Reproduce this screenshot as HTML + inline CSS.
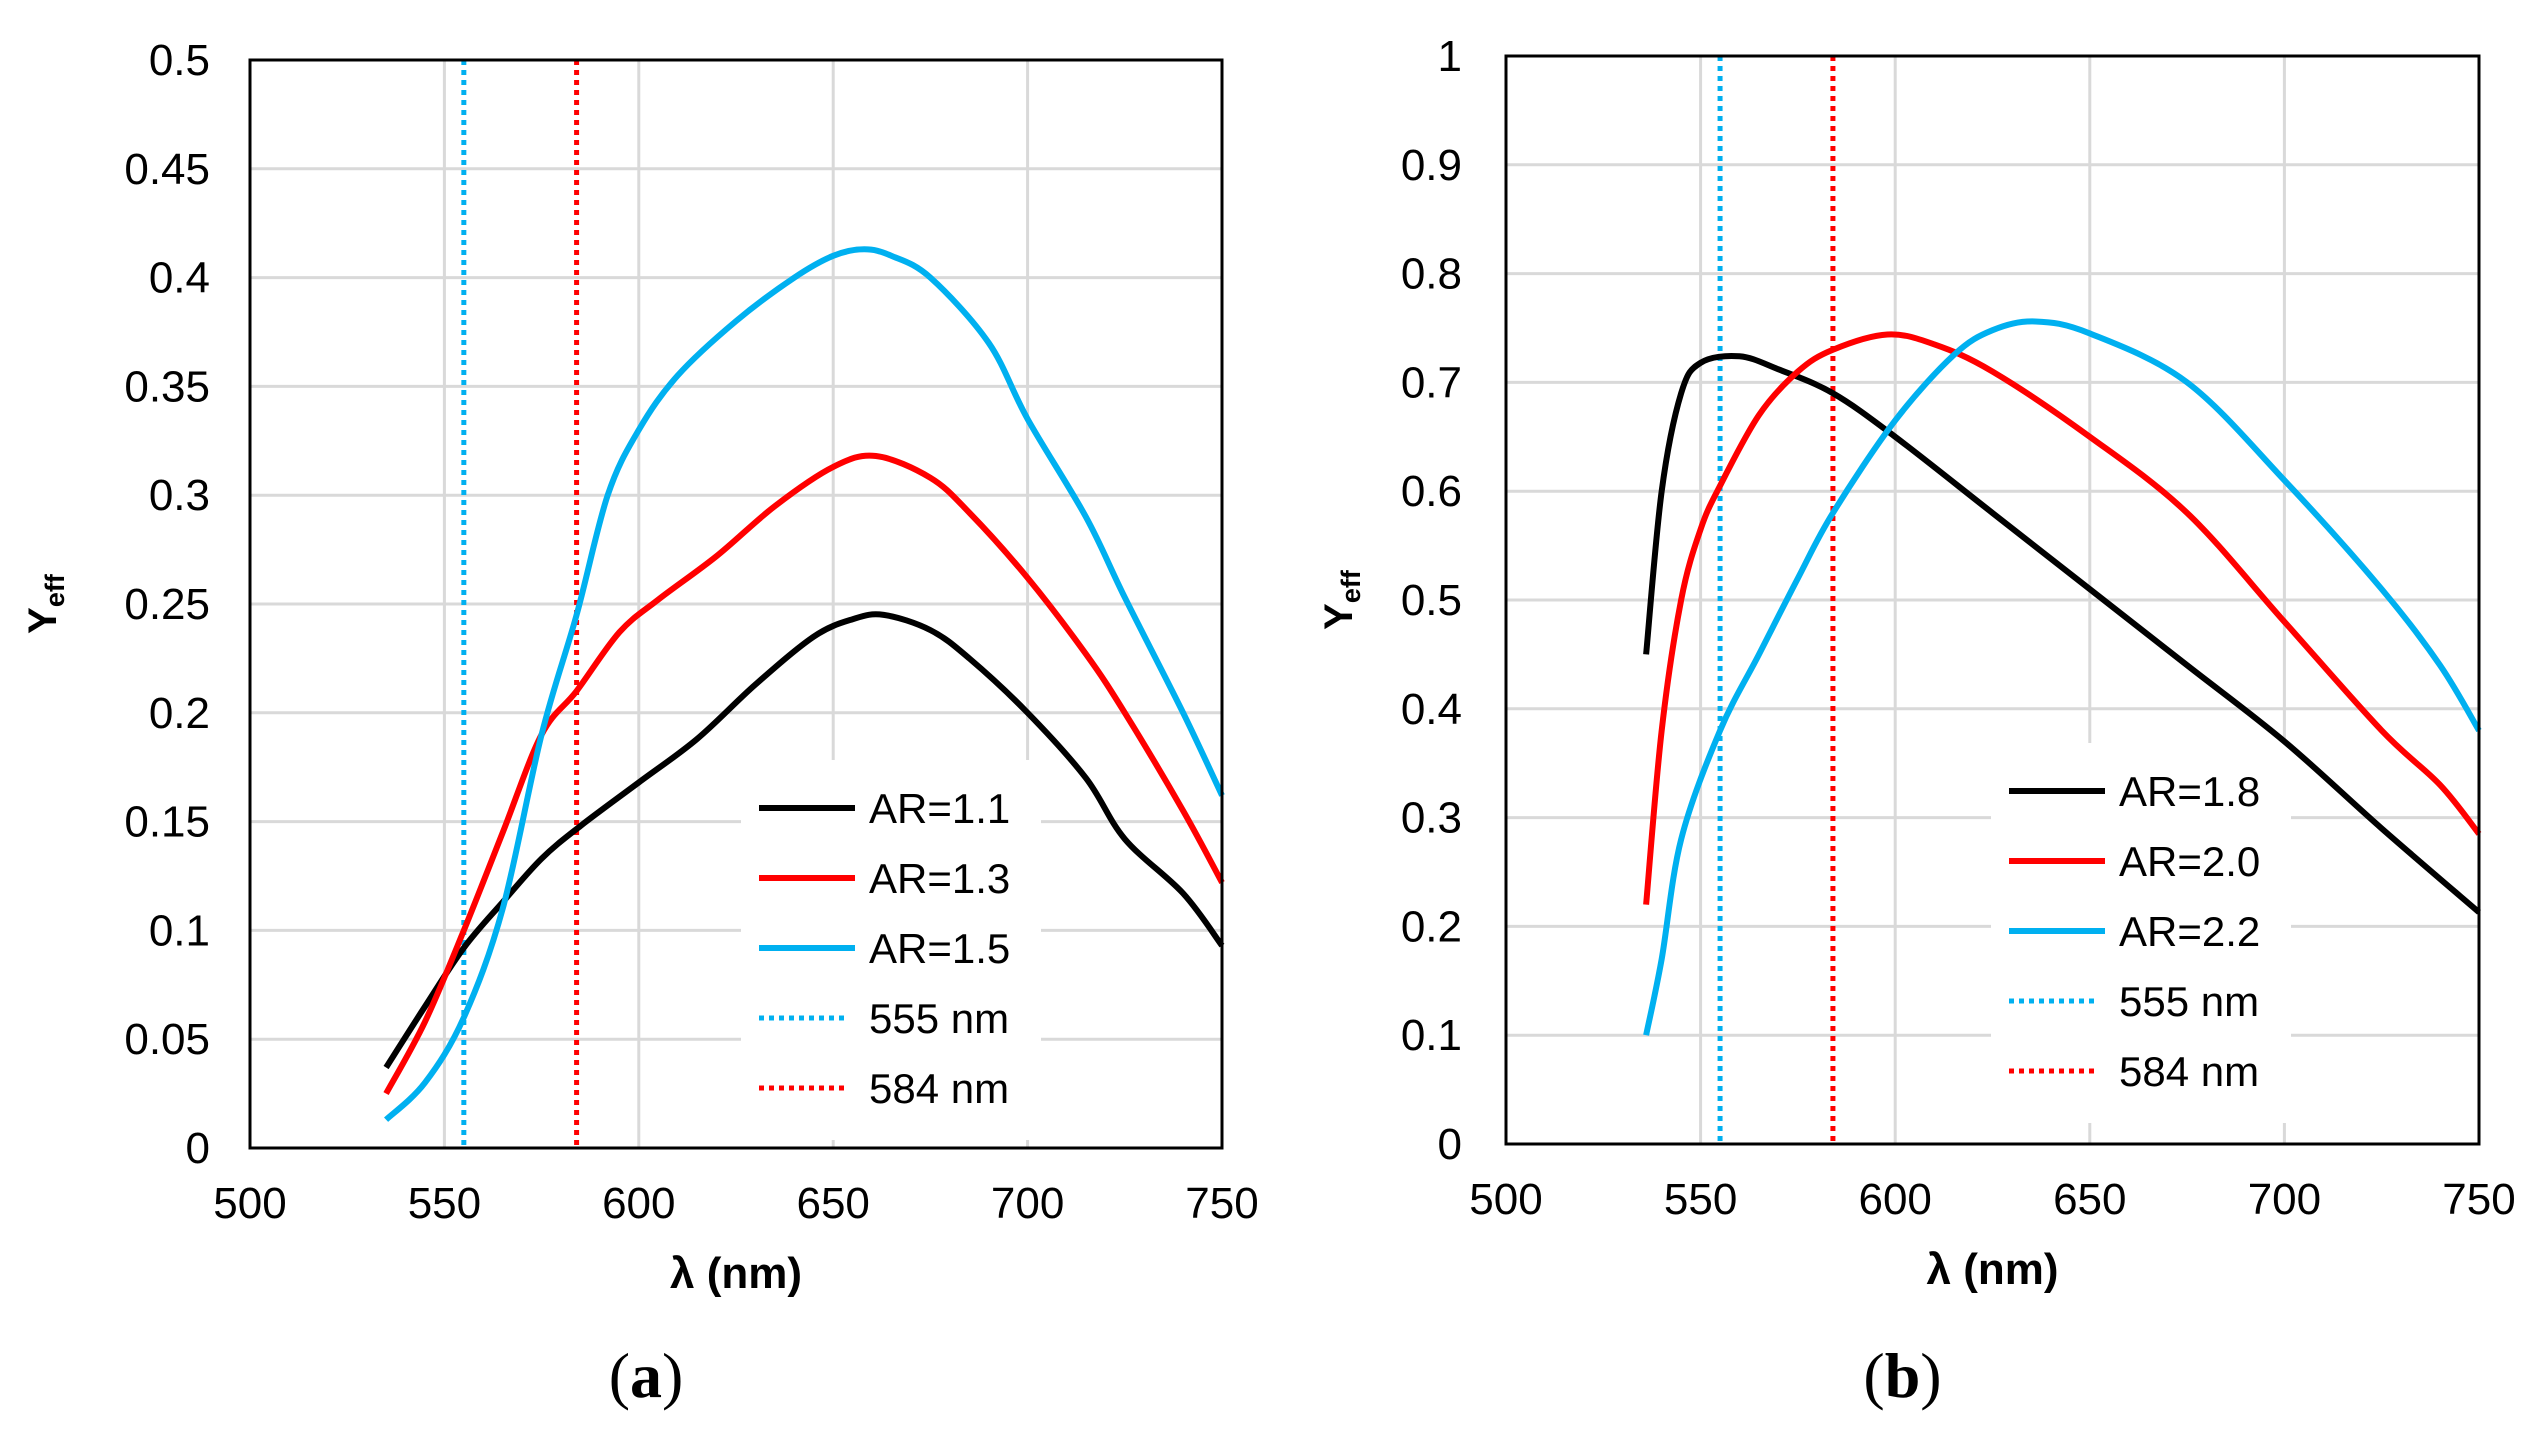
<!DOCTYPE html>
<html><head><meta charset="utf-8"><style>
html,body{margin:0;padding:0;background:#fff;}
svg{display:block;font-family:"Liberation Sans",Arial,sans-serif;}
</style></head><body>
<svg id="fig" width="2531" height="1432" viewBox="0 0 2531 1432"></svg>
<script>
// Panel (a) data
const aX1=[535,545,555,565,575,585,600,615,630,645,655,663,675,685,700,715,725,740,750];
const aY1=[0.037,0.065,0.092,0.113,0.133,0.148,0.168,0.188,0.213,0.235,0.243,0.245,0.238,0.225,0.2,0.17,0.142,0.117,0.093];
const aX2=[535,545,555,565,575,584,595,605,620,635,650,661,675,685,700,715,725,740,750];
const aY2=[0.025,0.058,0.1,0.145,0.19,0.21,0.237,0.252,0.272,0.295,0.313,0.318,0.308,0.292,0.262,0.227,0.2,0.155,0.122];
const aX3=[535,545,555,565,575,584,592,600,610,625,640,650,658,665,675,690,700,715,725,740,750];
const aY3=[0.013,0.03,0.06,0.11,0.19,0.245,0.3,0.33,0.355,0.38,0.4,0.41,0.413,0.41,0.4,0.37,0.335,0.29,0.253,0.2,0.162];
const aLabels=["AR=1.1","AR=1.3","AR=1.5"];
const aYTicks=[0,0.05,0.1,0.15,0.2,0.25,0.3,0.35,0.4,0.45,0.5];
const aYTickLabels=["0","0.05","0.1","0.15","0.2","0.25","0.3","0.35","0.4","0.45","0.5"];
// Panel (b) data
const bX1=[536,540,545,550,560,570,584,600,625,650,675,700,725,750];
const bY1=[0.45,0.6,0.69,0.718,0.724,0.712,0.69,0.65,0.58,0.51,0.44,0.37,0.29,0.213];
const bX2=[536,540,545,550,555,565,575,584,598,610,625,650,675,700,725,740,750];
const bY2=[0.22,0.38,0.5,0.565,0.605,0.67,0.71,0.73,0.744,0.735,0.71,0.65,0.58,0.48,0.38,0.33,0.285];
const bX3=[536,540,545,555,565,575,584,600,615,625,636,650,675,700,725,740,750];
const bY3=[0.1,0.17,0.28,0.38,0.45,0.52,0.58,0.665,0.725,0.748,0.756,0.745,0.7,0.61,0.51,0.44,0.38];
const bLabels=["AR=1.8","AR=2.0","AR=2.2"];
const bYTicks=[0,0.1,0.2,0.3,0.4,0.5,0.6,0.7,0.8,0.9,1];
const bYTickLabels=["0","0.1","0.2","0.3","0.4","0.5","0.6","0.7","0.8","0.9","1"];
const xTicks=[500,550,600,650,700,750];
const refLines=[555,584];
const refLabels=["555 nm","584 nm"];

const NS="http://www.w3.org/2000/svg";
const svg=document.getElementById('fig');
function mk(tag,attrs,parent,text){const e=document.createElementNS(NS,tag);for(const k in attrs)e.setAttribute(k,attrs[k]);if(text!==undefined)e.textContent=text;(parent||svg).appendChild(e);return e;}
function smooth(pts){let d=`M${pts[0][0]},${pts[0][1]}`;for(let i=0;i<pts.length-1;i++){const p0=pts[i-1]||pts[i],p1=pts[i],p2=pts[i+1],p3=pts[i+2]||p2;const c1x=p1[0]+(p2[0]-p0[0])/6,c1y=p1[1]+(p2[1]-p0[1])/6,c2x=p2[0]-(p3[0]-p1[0])/6,c2y=p2[1]-(p3[1]-p1[1])/6;d+=` C${c1x},${c1y} ${c2x},${c2y} ${p2[0]},${p2[1]}`;}return d;}
const colors=["#000000","#ff0000","#00b0f0"];

function panel(o){
  const g=mk('g',{});
  
  
  const sx=v=>o.L+(v-500)/250*(o.R-o.L);
  const sy=v=>o.B-(v/o.ymax)*(o.B-o.T);
  o.yt.forEach((t,i)=>{
    if(i>0){const gl=mk('line',{x1:o.L,x2:o.R,y1:sy(t),y2:sy(t),stroke:'#d9d9d9','stroke-width':3},g);
      }
    const tl=mk('text',{x:o.L-o.ygap,y:sy(t)+15,'font-size':44,'text-anchor':'end',fill:'#000'},g,o.ytl[i]);
    
  });
  xTicks.forEach(t=>{
    if(t>500){const gl=mk('line',{x1:sx(t),x2:sx(t),y1:o.T,y2:o.B,stroke:'#d9d9d9','stroke-width':3},g);
      }
    const tl=mk('text',{x:sx(t),y:o.B+70,'font-size':44,'text-anchor':'middle',fill:'#000'},g,String(t));
    
  });
  const lb=mk('rect',{x:o.lgx-18,y:o.lgy-48,width:300,height:380,fill:'#fff'},g);
  
  refLines.forEach((v,i)=>{
    const rl=mk('line',{x1:sx(v),x2:sx(v),y1:o.T,y2:o.B,stroke:i?'#ff0000':'#00b0f0','stroke-width':5,'stroke-dasharray':'5 5'},g);
    
  });
  o.series.forEach((s,i)=>{
    const pts=s[0].map((x,j)=>[sx(x),sy(s[1][j])]);
    const p=mk('path',{d:smooth(pts),fill:'none',stroke:colors[i],'stroke-width':6,'stroke-linejoin':'round'},g);
    
    
  });
  const fr=mk('rect',{x:o.L,y:o.T,width:o.R-o.L,height:o.B-o.T,fill:'none',stroke:'#000','stroke-width':3},g);
  
  const labs=o.labels.concat(refLabels);
  labs.forEach((l,i)=>{
    const y=o.lgy+i*o.lgStep;
    const dotted=i>=3;
    const ln=mk('line',{x1:o.lgx,x2:o.lgx+(dotted?86:96),y1:y,y2:y,stroke:dotted?(i==3?'#00b0f0':'#ff0000'):colors[i],'stroke-width':dotted?5:6,'stroke-dasharray':dotted?'5 5':'none'},g);
    
    const tx=mk('text',{x:o.lgx+110,y:y+15,'font-size':42,fill:'#000'},g,l);
    
  });
  const xt=mk('text',{x:(o.L+o.R)/2,y:o.B+140,'font-size':44,'font-weight':'bold','text-anchor':'middle'},g,'λ (nm)');
  
  const yt=mk('text',{transform:`translate(${o.ylx},${(o.T+o.B)/2}) rotate(-90)`,'font-size':40,'font-weight':'bold','text-anchor':'middle'},g);
  
  mk('tspan',{},yt,'Y');mk('tspan',{'font-size':27,dy:8},yt,'eff');
  const cap=mk('text',{x:(o.L+o.R)/2-90,y:1397,'font-size':64,'font-family':'"Liberation Serif",serif','text-anchor':'middle'},g);
  
  mk('tspan',{},cap,'(');mk('tspan',{'font-weight':'bold'},cap,o.cap);mk('tspan',{},cap,')');
}
panel({name:'panel-a',L:250,R:1222,T:60,B:1148,ymax:0.5,yt:aYTicks,ytl:aYTickLabels,ygap:40,
  series:[[aX1,aY1],[aX2,aY2],[aX3,aY3]],labels:aLabels,lgx:759,lgy:808,lgStep:70,ylx:56,cap:'a'});
panel({name:'panel-b',L:1506,R:2479,T:56,B:1144,ymax:1,yt:bYTicks,ytl:bYTickLabels,ygap:44,
  series:[[bX1,bY1],[bX2,bY2],[bX3,bY3]],labels:bLabels,lgx:2009,lgy:791,lgStep:70,ylx:1352,cap:'b'});
</script>
</body></html>
